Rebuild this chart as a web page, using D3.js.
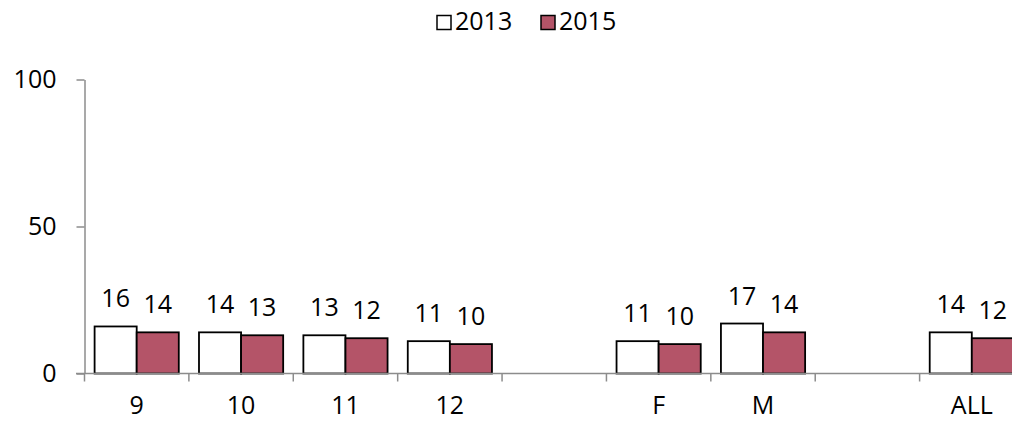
<!DOCTYPE html>
<html>
<head>
<meta charset="utf-8">
<title>2013 vs 2015</title>
<style>
  body { margin: 0; background: #fff; }
  text { font-family: "Open Sans", "Noto Sans", sans-serif; fill: #000; }
</style>
</head>
<body>
<script src="https://cdn.jsdelivr.net/npm/d3@7/dist/d3.min.js"></script>
<script>
// data (null = empty spacer slot)
var categories = ["9", "10", "11", "12", "", "F", "M", "", "ALL"];
var series = ["2013", "2015"];
var values2013 = [16, 14, 13, 11, null, 11, 17, null, 14];
var values2015 = [14, 13, 12, 10, null, 10, 14, null, 12];
var yTicks = [0, 50, 100];

var colors = { "2013": "#ffffff", "2015": "#b45468" };

var width = 1012, height = 421;
var fontSize = 25;

var svg = d3.select("body").append("svg")
  .attr("width", width)
  .attr("height", height);

var idx = d3.range(categories.length);

var x = d3.scaleBand()
  .domain(idx)
  .range([84.5, 1024])
  .padding(0);

var x1 = d3.scaleBand()
  .domain(series)
  .range([0, x.bandwidth()])
  .paddingInner(0)
  .paddingOuter(0.24);

var y = d3.scaleLinear()
  .domain([0, 100])
  .range([373.5, 79.5]);

var axisColor = "#8c8c8c";

// y axis
var yAxis = svg.append("g")
  .attr("transform", "translate(84.5,0)")
  .call(d3.axisLeft(y).tickValues(yTicks).tickSize(8).tickSizeOuter(0).tickPadding(20));
yAxis.select(".domain").attr("stroke", axisColor).attr("stroke-width", 1.5);
yAxis.selectAll(".tick line").attr("stroke", axisColor).attr("stroke-width", 1.5);
yAxis.selectAll(".tick text")
  .attr("font-size", fontSize)
  .style("font-size", fontSize + "px")
  .attr("fill", "#000");

// bars
var rows = idx.filter(function(i){ return values2013[i] != null; }).map(function(i){
  return { i: i, vals: [ { s: "2013", v: values2013[i] }, { s: "2015", v: values2015[i] } ] };
});

var groups = svg.selectAll("g.cat")
  .data(rows)
  .enter()
  .append("g")
  .attr("class", "cat")
  .attr("transform", function(d){ return "translate(" + x(d.i) + ",0)"; });

groups.selectAll("rect")
  .data(function(d){ return d.vals; })
  .enter()
  .append("rect")
  .attr("x", function(d){ return x1(d.s); })
  .attr("y", function(d){ return y(d.v); })
  .attr("width", x1.bandwidth())
  .attr("height", function(d){ return y(0) - y(d.v); })
  .attr("fill", function(d){ return colors[d.s]; })
  .attr("stroke", "#000")
  .attr("stroke-width", 1.8);

groups.selectAll("text.val")
  .data(function(d){ return d.vals; })
  .enter()
  .append("text")
  .attr("class", "val")
  .attr("x", function(d){ return x1(d.s) + x1.bandwidth() / 2; })
  .attr("y", function(d){ return y(d.v) - 19; })
  .attr("text-anchor", "middle")
  .style("font-size", fontSize + "px")
  .text(function(d){ return d.v; });

// x axis: line, ticks at slot boundaries, labels at centers
var xg = svg.append("g");
xg.append("line")
  .attr("x1", 76).attr("x2", 1024)
  .attr("y1", y(0)).attr("y2", y(0))
  .attr("stroke", axisColor).attr("stroke-width", 1.5);

var bounds = idx.concat([categories.length]);
xg.selectAll("line.tk")
  .data(bounds)
  .enter()
  .append("line")
  .attr("class", "tk")
  .attr("x1", function(i){ return i < categories.length ? x(i) : x.range()[1]; })
  .attr("x2", function(i){ return i < categories.length ? x(i) : x.range()[1]; })
  .attr("y1", y(0)).attr("y2", y(0) + 8)
  .attr("stroke", axisColor).attr("stroke-width", 1.5);

xg.selectAll("text")
  .data(idx)
  .enter()
  .append("text")
  .attr("x", function(i){ return x(i) + x.bandwidth() / 2; })
  .attr("y", 414)
  .attr("text-anchor", "middle")
  .style("font-size", fontSize + "px")
  .text(function(i){ return categories[i]; });

// legend
var legendX = [437, 541];
var legend = svg.selectAll("g.legend")
  .data(series)
  .enter()
  .append("g")
  .attr("class", "legend")
  .attr("transform", function(d, i){ return "translate(" + legendX[i] + ",15.5)"; });

legend.append("rect")
  .attr("width", 14).attr("height", 14)
  .attr("fill", function(d){ return colors[d]; })
  .attr("stroke", "#000").attr("stroke-width", 1.5);

legend.append("text")
  .attr("x", 18).attr("y", 14.5)
  .style("font-size", fontSize + "px")
  .text(function(d){ return d; });
</script>
</body>
</html>
